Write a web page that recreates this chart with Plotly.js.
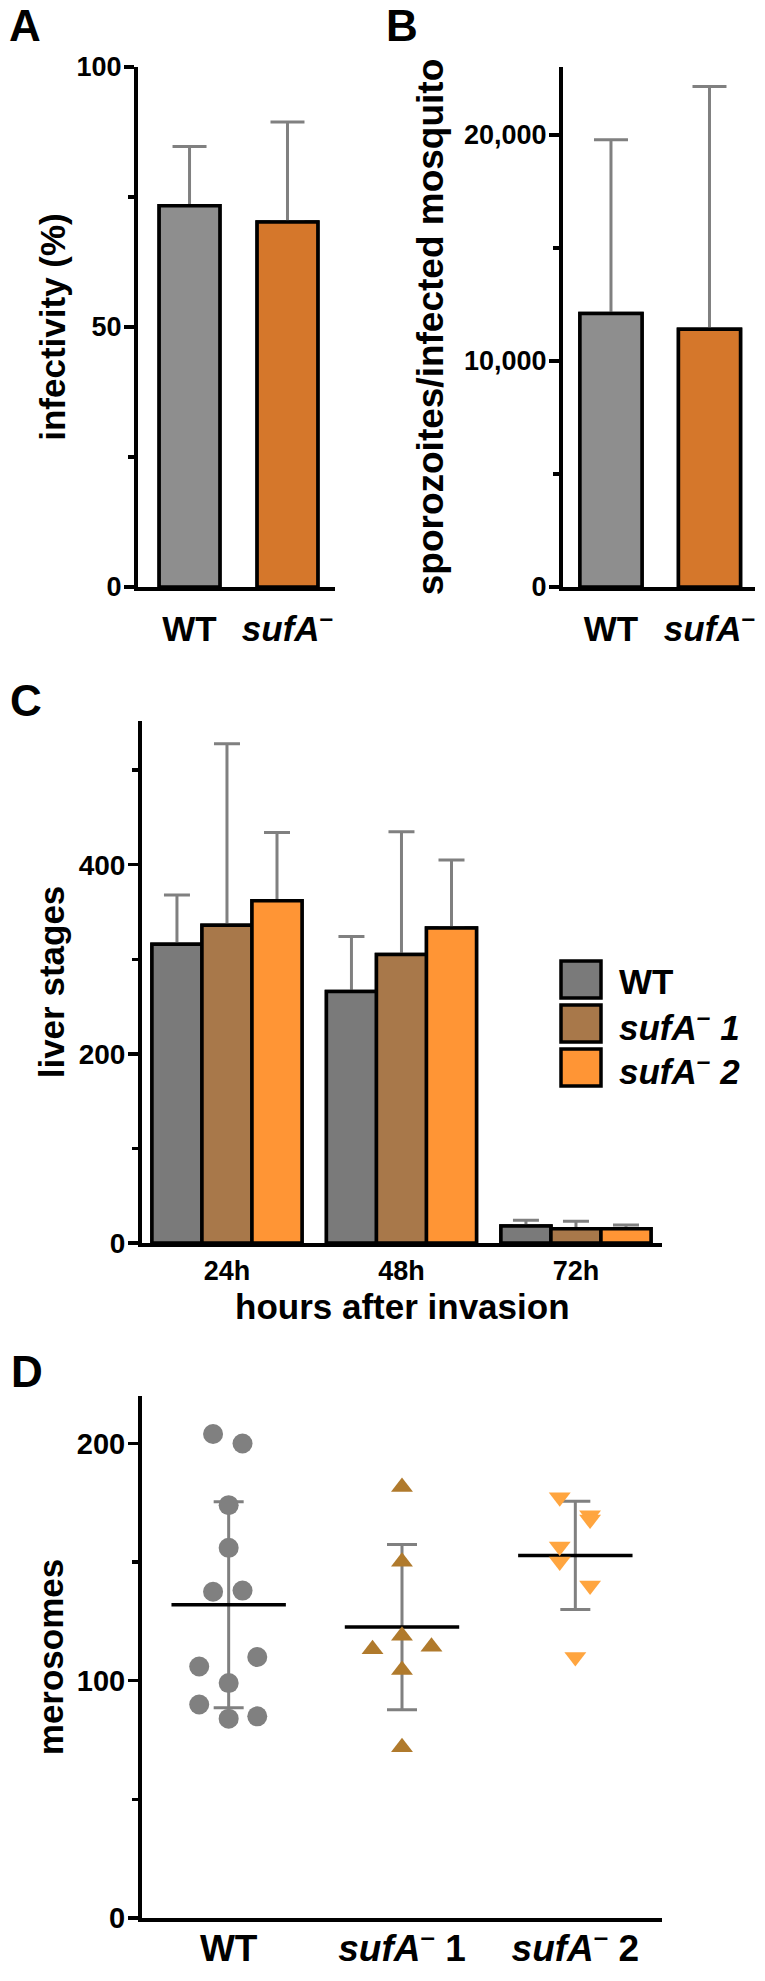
<!DOCTYPE html>
<html>
<head>
<meta charset="utf-8">
<script src="https://cdn.plot.ly/plotly-3.0.1.min.js"></script>
<style>html,body{margin:0;padding:0;background:#fff;}#chart{width:765px;height:1981px;}</style>
</head>
<body>
<div id="chart"></div>
<script>
// ---------- DATA ----------
// Panel A: infectivity (%)
const groupsAB = ['WT', 'sufA'];
const infectivityMean = [73.3, 70.2];
const infectivitySD = [11.4, 19.2];
// Panel B: sporozoites / infected mosquito
const sporozoitesMean = [12100, 11400];
const sporozoitesSD = [7680, 10740];
// Panel C: liver stages
const hours = ['24h', '48h', '72h'];
const liverWT = [316, 266, 18];
const liverWTErr = [52, 58, 6];
const liverSufA1 = [336, 305, 15];
const liverSufA1Err = [192, 130, 8];
const liverSufA2 = [362, 333, 15];
const liverSufA2Err = [72, 72, 4];
// Panel D: merosomes
const merosomesWT = [204, 200, 174, 156, 137.5, 138, 110, 106, 99, 90, 84, 85];
const merosomesSufA1 = [181.7, 150.1, 119, 114.3, 113.3, 104.5, 72];
const merosomesSufA2 = [177.3, 169.7, 167.9, 156.6, 150.3, 140.1, 110];
const merosomesMean = [132, 122.6, 152.8];
const merosomesSD = [43.4, 34.8, 22.8];

// ---------- LAYOUT CONSTANTS (positions / styles, not data) ----------
const W = 765, H = 1981;
const FONT = 'Liberation Sans, Arial, Helvetica, sans-serif';
const px = x => x / W;
const py = y => 1 - y / H;
const jitterWT = [-0.09, 0.08, 0, 0, -0.09, 0.08, 0.165, -0.17, 0, -0.17, 0, 0.165];
const jitterS1 = [0, 0, 0, 0.17, -0.17, 0, 0];
const jitterS2 = [-0.09, 0.085, 0.085, -0.09, -0.09, 0.085, 0];
const meanHalf = 0.33;

const cAB = ['#8e8e8e', '#d5772b'];
const cC = ['#7a7a7a', '#a8784a', '#ff9535'];
const cD = ['#808080', '#b07a2c', '#ffa53f'];
const errColor = '#808080';
const outline = {color: '#000', width: 3.5};

const sup = '<sup>–</sup>';
const abLabels = ['WT', '<i>sufA</i>' + sup];
const dLabels = ['WT', '<i>sufA</i>' + sup + ' 1', '<i>sufA</i>' + sup + ' 2'];
const legendLabels = ['WT', '<i>sufA' + sup + ' 1</i>', '<i>sufA' + sup + ' 2</i>'];

const idx = arr => arr.map((_, i) => i);
const zeros = arr => arr.map(() => 0);

function barErr(arr, w) {
  return {type: 'data', array: arr, arrayminus: zeros(arr), symmetric: false,
          color: errColor, thickness: 3, width: w};
}

const traces = [];
const covers = [];
// bar trace with upward error bar + an identical cover bar drawn on top (hides the lower cap)
function addBars(x, y, err, xa, ya, colors, width, capW, group) {
  const base = {type: 'bar', x: x, y: y, xaxis: xa, yaxis: ya, offsetgroup: group,
    marker: {color: colors, line: outline}};
  if (width) base.width = width;
  traces.push(Object.assign({}, base, {error_y: barErr(err, capW)}));
  covers.push(Object.assign({}, base, {hoverinfo: 'skip'}));
}
// A
addBars(idx(groupsAB), infectivityMean, infectivitySD, 'x', 'y', cAB, 0.62, 17, 'a');
// B
addBars(idx(groupsAB), sporozoitesMean, sporozoitesSD, 'x2', 'y2', cAB, 0.63, 17, 'b');
// C
[[liverWT, liverWTErr], [liverSufA1, liverSufA1Err], [liverSufA2, liverSufA2Err]].forEach((s, k) => {
  addBars(idx(hours), s[0], s[1], 'x3', 'y3', cC[k], null, 13, 'c' + k);
});
covers.forEach(c => traces.push(c));

// D : SD bars
traces.push({type: 'scatter', mode: 'markers', x: idx(merosomesMean), y: merosomesMean,
  xaxis: 'x4', yaxis: 'y4', marker: {size: 1, color: 'rgba(0,0,0,0)'},
  error_y: {type: 'data', array: merosomesSD, color: errColor, thickness: 3, width: 15}});
// D : mean lines
merosomesMean.forEach((m, i) => {
  traces.push({type: 'scatter', mode: 'lines', x: [i - meanHalf, i + meanHalf], y: [m, m],
    xaxis: 'x4', yaxis: 'y4', line: {color: '#000', width: 3.5}, hoverinfo: 'skip'});
});
// D : points
const dSets = [[merosomesWT, jitterWT, 'circle', 20], [merosomesSufA1, jitterS1, 'triangle-up', 19],
               [merosomesSufA2, jitterS2, 'triangle-down', 19]];
dSets.forEach((s, k) => {
  traces.push({type: 'scatter', mode: 'markers', x: s[0].map((_, j) => k + s[1][j]), y: s[0],
    xaxis: 'x4', yaxis: 'y4', marker: {symbol: s[2], size: s[3], color: cD[k], line: {width: 0}}});
});

function yAx(domain, range, dtick, minor, tsize, title, tfs, standoff, fmt) {
  return {domain: domain, range: range, showline: true, linewidth: 4, linecolor: '#000',
    ticks: 'outside', ticklen: 10, tickwidth: 3.5, tickcolor: '#000', dtick: dtick, tick0: 0,
    tickformat: fmt || '', showgrid: false, zeroline: false, fixedrange: true,
    ticklabelstandoff: -3,
    minor: {ticks: 'outside', dtick: minor, tick0: 0, ticklen: 6, tickwidth: 3.5, tickcolor: '#000', showgrid: false},
    tickfont: {family: FONT, size: tsize, color: '#000', weight: 'bold'},
    title: {text: title, standoff: standoff, font: {family: FONT, size: tfs, color: '#000', weight: 'bold'}}};
}
function xAx(domain, range, vals, text, tsize, standoff) {
  return {domain: domain, range: range, showline: true, linewidth: 4, linecolor: '#000',
    ticks: '', tickvals: vals, ticktext: text, showgrid: false, zeroline: false, fixedrange: true,
    ticklabelstandoff: standoff,
    tickfont: {family: FONT, size: tsize, color: '#000', weight: 'bold'}};
}

const layout = {
  width: W, height: H, margin: {l: 0, r: 0, t: 0, b: 0}, autosize: false,
  paper_bgcolor: '#fff', plot_bgcolor: '#fff', showlegend: false,
  barmode: 'group', bargap: 0.14, bargroupgap: 0,
  font: {family: FONT, color: '#000'},
  xaxis: Object.assign(xAx([px(138), px(335)], [-0.526, 1.485], idx(groupsAB), abLabels, 35, 8), {anchor: 'y'}),
  yaxis: Object.assign(yAx([py(587), py(67)], [0, 100], 50, 25, 27, 'infectivity (%)', 35, 1), {anchor: 'x'}),
  xaxis2: Object.assign(xAx([px(563), px(755)], [-0.487, 1.462], idx(groupsAB), abLabels, 35, 8), {anchor: 'y2'}),
  yaxis2: Object.assign(yAx([py(587), py(67)], [0, 23000], 10000, 5000, 27, 'sporozoites/infected mosquito', 37, 10, ','), {anchor: 'x2'}),
  xaxis3: Object.assign(xAx([px(142), px(662)], [-0.487, 2.493], idx(hours), hours, 27, 1), {anchor: 'y3'}),
  yaxis3: Object.assign(yAx([py(1243), py(721)], [0, 552], 200, 100, 28, 'liver stages', 35, 4), {anchor: 'x3'}),
  xaxis4: Object.assign(xAx([px(142), px(662)], [-0.5, 2.5], idx(dLabels), dLabels, 37, -5), {anchor: 'y4'}),
  yaxis4: Object.assign(yAx([py(1918), py(1396)], [0, 220], 100, 50, 29, 'merosomes', 35, 4), {anchor: 'x4'}),
  shapes: [],
  annotations: []
};

// x-axis title of panel C
layout.annotations.push({xref: 'paper', yref: 'paper', x: px(402), y: py(1306), text: 'hours after invasion',
  showarrow: false, xanchor: 'center', yanchor: 'middle',
  font: {family: FONT, size: 35, color: '#000', weight: 'bold'}});

// panel letters
[['A', 25, 26], ['B', 402, 26], ['C', 26, 700], ['D', 27, 1371]].forEach(l => {
  layout.annotations.push({xref: 'paper', yref: 'paper', x: px(l[1]), y: py(l[2]), text: l[0],
    showarrow: false, xanchor: 'center', yanchor: 'middle',
    font: {family: FONT, size: 44, color: '#000', weight: 'bold'}});
});
// legend for C
const legTops = [961, 1005, 1049];
legendLabels.forEach((t, k) => {
  layout.shapes.push({type: 'rect', xref: 'paper', yref: 'paper', x0: px(561), x1: px(601),
    y0: py(legTops[k]), y1: py(legTops[k] + 37), fillcolor: cC[k], line: {color: '#000', width: 3.5}});
  layout.annotations.push({xref: 'paper', yref: 'paper', x: px(617), y: py(legTops[k] + 20), text: t,
    showarrow: false, xanchor: 'left', yanchor: 'middle',
    font: {family: FONT, size: 35, color: '#000', weight: 'bold'}});
});

Plotly.newPlot('chart', traces, layout, {displayModeBar: false, staticPlot: true});
</script>
</body>
</html>
